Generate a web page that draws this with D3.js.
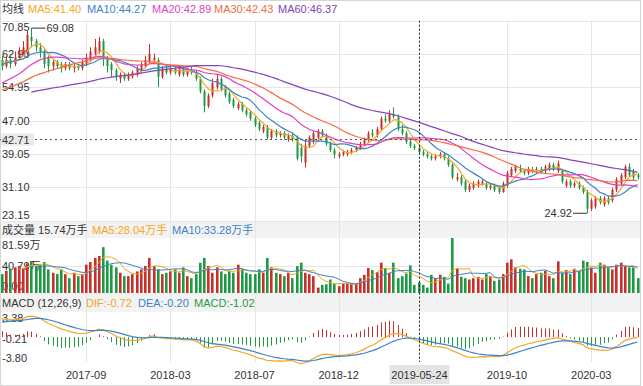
<!DOCTYPE html>
<html>
<head>
<meta charset="utf-8">
<script src="https://cdn.jsdelivr.net/npm/d3@7"></script>
<style>
body { margin: 0; background: #fff; }
svg { display: block; font-family: Arial, "Liberation Sans", "Noto Sans CJK SC", sans-serif; }
</style>
</head>
<body>
<div id="chart"></div>
<script>
var width = 643;
var height = 386;

// weekly candles, oldest first (price in yuan, volume in 万手)
var openP = [61.5,60.0,61.5,60.5,62.0,63.0,63.0,67.0,66.0,64.5, 63.5,62.0,60.0,61.0,60.5,59.5,60.5,59.5,60.0,59.5,
	60.5,61.5,63.0,63.5,66.0,62.0,60.5,59.0,57.0,58.0, 57.0,57.5,58.0,59.0,60.0,61.0,61.5,61.5,57.5,59.5,
	58.5,59.5,58.0,59.5,58.0,59.0,58.5,57.0,54.0,50.5, 53.0,55.0,57.0,55.0,53.5,52.0,50.0,51.0,49.5,49.0,
	47.5,46.5,44.5,45.5,43.0,44.5,43.5,44.0,42.5,43.5, 43.0,40.5,37.0,41.0,42.0,43.0,44.5,43.5,41.5,40.0,
	38.5,39.0,39.0,39.5,40.0,40.5,41.5,42.5,44.0,43.5, 45.0,47.5,47.0,48.5,48.0,45.0,44.0,42.0,41.0,40.5,
	39.5,39.0,38.5,38.0,38.5,39.0,38.0,36.5,33.0,33.5, 32.5,30.5,31.0,31.5,32.0,32.0,31.0,31.5,31.0,30.0,
	31.5,34.0,35.0,35.5,35.0,34.5,35.5,35.0,35.5,35.0, 35.5,36.5,35.0,35.0,31.5,32.5,31.5,32.0,31.0,30.0,
	26.0,26.5,28.5,27.0,28.5,28.0,30.5,32.0,33.5,36.0, 35.0,34.0];
var highP = [62.5,62.5,63.0,63.5,64.5,66.0,68.6,69.08,66.5,65.5, 64.0,62.5,61.5,61.5,61.0,61.0,61.0,60.5,60.5,61.5,
	63.0,64.5,66.5,67.0,66.5,62.5,61.0,59.5,58.5,58.5, 58.5,59.0,60.0,61.0,62.5,65.3,63.0,62.0,60.0,60.5,
	60.0,60.0,60.0,60.0,59.5,60.0,59.0,57.5,54.5,53.5, 57.0,58.0,57.5,55.5,54.0,52.5,51.5,51.5,50.0,49.5,
	48.0,47.0,46.0,46.0,45.0,45.0,44.5,44.5,44.0,44.0, 43.5,41.5,42.5,43.5,44.5,45.0,45.0,44.0,42.0,40.5,
	39.5,40.0,40.0,40.5,41.0,42.0,43.0,44.5,45.0,45.5, 48.0,48.5,49.5,50.2,48.5,46.0,44.5,42.5,41.5,41.0,
	40.0,39.5,39.0,39.0,39.5,39.5,38.5,37.0,34.5,34.0, 33.0,32.0,32.5,33.0,33.0,32.5,32.0,32.0,31.5,32.5,
	35.0,36.0,36.5,36.5,35.5,36.0,36.0,36.0,36.0,36.5, 37.0,37.0,37.5,35.5,33.0,33.0,32.5,32.5,31.5,30.5,
	28.5,29.0,29.0,29.0,29.0,31.0,33.5,34.5,36.5,36.8, 35.5,34.5];
var lowP = [59.0,59.5,59.5,60.0,61.5,62.5,62.5,64.5,63.5,62.0, 59.5,58.5,59.0,59.5,58.5,59.0,59.0,58.5,59.0,59.0,
	60.0,61.0,62.5,63.0,60.0,58.5,57.5,56.5,56.0,56.5, 56.5,57.0,57.5,58.5,59.5,60.5,60.5,55.0,57.0,58.0,
	58.0,58.0,57.5,57.5,57.5,58.0,56.5,53.5,49.0,50.0, 52.5,54.5,54.0,52.5,51.0,50.0,49.5,49.0,48.0,47.0,
	45.5,44.5,44.0,42.5,42.5,43.0,43.0,42.5,42.0,42.0, 37.5,37.0,35.8,40.5,41.5,42.5,43.0,41.0,39.5,38.0,
	38.0,38.5,38.5,39.0,39.5,40.0,41.0,42.0,43.0,43.0, 44.5,46.5,46.5,47.5,44.5,43.5,41.5,40.5,40.0,39.0,
	38.5,38.0,37.5,37.5,38.0,37.5,36.0,33.0,32.5,31.5, 30.0,30.0,30.5,31.0,31.5,30.5,30.5,30.0,29.5,29.8,
	31.0,33.5,34.5,34.5,34.0,34.0,34.5,34.5,34.5,34.5, 35.0,35.0,34.5,32.0,31.0,31.0,31.0,30.5,29.5,24.92,
	25.5,26.0,27.0,26.5,27.0,27.5,30.0,31.5,33.0,33.5, 32.8,33.0];
var closeP = [60.0,61.5,60.5,62.0,63.5,64.5,67.5,66.0,64.5,63.5, 60.5,60.0,61.0,60.0,59.5,60.5,59.5,60.0,59.5,61.0,
	62.0,63.5,64.5,66.0,62.0,60.0,59.0,57.5,58.0,57.0, 58.0,58.5,59.5,60.5,61.5,63.0,62.0,57.5,59.5,58.5,
	59.5,58.5,59.5,58.0,59.0,58.5,57.0,54.0,50.5,53.0, 56.0,57.0,54.5,53.0,51.5,50.5,51.0,49.5,48.5,47.5,
	46.0,45.0,45.5,43.0,44.5,43.5,44.0,43.0,43.5,42.5, 38.0,38.5,41.0,43.0,44.0,44.5,43.5,41.5,40.0,39.0,
	39.0,39.5,39.5,40.0,40.5,41.5,42.5,44.0,43.5,45.0, 47.5,47.0,48.5,48.0,45.0,44.0,42.0,41.0,40.5,39.5,
	39.0,38.5,38.0,38.5,39.0,38.0,36.5,33.5,33.5,32.0, 30.5,31.5,32.0,32.5,32.5,31.0,31.5,30.5,30.0,32.0,
	34.5,35.5,36.0,35.0,34.5,35.5,35.0,35.5,35.0,36.0, 36.5,35.5,36.8,32.5,32.5,31.5,32.0,31.0,30.0,26.0,
	28.0,28.5,27.5,28.5,27.5,30.5,33.0,34.0,36.0,34.0, 33.5,33.5];
var volume = [28,33,36,38,40,36,44,46,40,42, 46,35,30,28,35,28,22,30,25,28,
	42,46,52,55,68,48,42,38,30,25, 25,28,32,35,40,52,40,35,28,30,
	32,35,30,38,25,22,28,45,52,40, 30,38,32,28,33,30,42,36,30,28,
	28,35,30,52,38,30,28,25,30,22, 40,45,30,28,25,8,12,13,20,14,
	10,14,14,14,14,22,27,37,34,31, 45,37,30,45,22,25,29,41,12,15.74,
	12,8,27,22,27,24,14,81.59,36,24, 22,20,22,24,20,28,25,18,20,28,
	45,50,38,36,35,25,22,28,30,33, 25,22,47,30,34,28,36,33,48,46,
	38,30,45,42,38,35,42,45,40,38, 38,22];
// closes of the weeks before the window; they only feed the MA and MACD lines
var warmClose = [52,51,50,49,50,51,50,49,48,49,50,51,52,51,50,49,50,51,50,49,50,51,52,
	51,50,50,51,52,51,50,51,52,52, 50,51,52,51,50,51,52,53,53,54,
	56,58,60,61,62.5, 61,60.5,62,61.5];

var tickIndex = [20, 40, 60, 80, 120, 140];
var tickLabel = ["2017-09", "2018-03", "2018-07", "2018-12", "2019-10", "2020-03"];
var priceTicks = [70.85, 62.90, 54.95, 47.00, 39.05, 31.10, 23.15];
var volTicks = [81.59, 40.79, 0];
var macdTicks = [3.38, -0.21, -3.80];

var cursorIndex = 99;
var cursorDate = "2019-05-24";
var cursorPrice = 42.71;
var maNames = ["MA5", "MA10", "MA20", "MA30", "MA60"];
var maDays = [5, 10, 20, 30, 60];
var maLegend = ["41.40", "44.27", "42.89", "42.43", "46.37"];
var volLegend = ["15.74", "28.04", "33.28"];
var macdLegend = ["-0.72", "-0.20", "-1.02"];

var RED = "#c9302c", GREEN = "#1e9a45";
var maColor = ["#f5a623", "#3b83c8", "#e03fc6", "#f36b45", "#8442b8"];

var svg = d3.select("#chart").append("svg")
	.attr("width", width)
	.attr("height", height);

var n = closeP.length;
var x = d3.scaleLinear().domain([0, n - 1]).range([2, 637.5]);
var y = d3.scaleLinear().domain([23.15, 70.85]).range([220.7, 20.7]);
var yVol = d3.scaleLinear().domain([0, 81.59]).range([293, 238]);
var yMacd = d3.scaleLinear().domain([-3.80, 3.38]).range([362, 315]);

// bands and frame
svg.append("rect").attr("x", 0.5).attr("y", 0.5).attr("width", 640).attr("height", 385)
	.attr("fill", "#fff").attr("stroke", "#d6d6d6");
svg.append("rect").attr("x", 1).attr("y", 221).attr("width", 639).attr("height", 17).attr("fill", "#f3f3f3");
svg.append("rect").attr("x", 1).attr("y", 293).attr("width", 639).attr("height", 19).attr("fill", "#f3f3f3");

// grid
var grid = svg.append("g").attr("stroke", "#e6e6e6").attr("stroke-width", 1);
grid.selectAll(".v").data(tickIndex).enter().append("line")
	.attr("x1", d => Math.round(x(d)) + 0.5).attr("x2", d => Math.round(x(d)) + 0.5)
	.attr("y1", 20.7).attr("y2", 362);
grid.selectAll(".h").data(priceTicks).enter().append("line")
	.attr("x1", 0).attr("x2", 640)
	.attr("y1", d => Math.round(y(d)) + 0.5).attr("y2", d => Math.round(y(d)) + 0.5);
grid.append("line").attr("x1", 0).attr("x2", 640)
	.attr("y1", Math.round(yVol(40.79)) + 0.5).attr("y2", Math.round(yVol(40.79)) + 0.5);

// axis labels (drawn under the marks, as in the original)
var lab = svg.append("g").attr("font-size", 11).attr("fill", "#333");
lab.selectAll(".p").data(priceTicks).enter().append("text")
	.attr("x", 2)
	.attr("y", (d, i) => i == 0 ? y(d) + 10 : (i == priceTicks.length - 1 ? y(d) - 2 : y(d) + 4))
	.text(d => d.toFixed(2));
lab.selectAll(".v").data(volTicks).enter().append("text")
	.attr("x", 2)
	.attr("y", (d, i) => i == 0 ? yVol(d) + 11 : (i == 2 ? yVol(d) - 3 : yVol(d) + 4))
	.text(d => d == 0 ? "0.00" : d.toFixed(2) + "万");
lab.selectAll(".m").data(macdTicks).enter().append("text")
	.attr("x", 2)
	.attr("y", (d, i) => i == 0 ? yMacd(d) + 7 : (i == 2 ? yMacd(d) : yMacd(d) + 4))
	.text(d => d.toFixed(2));
lab.selectAll(".t").data(tickIndex).enter().append("text")
	.attr("x", d => x(d)).attr("y", 379).attr("text-anchor", "middle")
	.text((d, i) => tickLabel[i]);

// moving averages over warm-up + visible closes
var allClose = warmClose.concat(closeP);
var off = warmClose.length;
function movingAvg(vals, days, start) {
	var out = [];
	for (var i = start; i < vals.length; i++) {
		if (i - days + 1 < 0) { out.push(null); continue; }
		out.push(d3.mean(vals.slice(i - days + 1, i + 1)));
	}
	return out;
}
function ema(vals, days) {
	var k = 2 / (days + 1), out = [vals[0]];
	for (var i = 1; i < vals.length; i++) out.push(out[i - 1] + k * (vals[i] - out[i - 1]));
	return out;
}

var line = d3.line()
	.defined(d => d[1] != null)
	.x(d => x(d[0]))
	.y(d => d[1]);

// candles
var candles = svg.append("g");
var idx = d3.range(n);
candles.selectAll("line").data(idx).enter().append("line")
	.attr("x1", i => Math.round(x(i)) + 0.5).attr("x2", i => Math.round(x(i)) + 0.5)
	.attr("y1", i => y(highP[i])).attr("y2", i => y(lowP[i]))
	.attr("stroke", i => closeP[i] >= openP[i] ? RED : GREEN);
candles.selectAll("rect").data(idx).enter().append("rect")
	.attr("x", i => Math.round(x(i)) - 0.5).attr("width", 2)
	.attr("y", i => y(Math.max(openP[i], closeP[i])))
	.attr("height", i => Math.max(1, Math.abs(y(openP[i]) - y(closeP[i]))))
	.attr("fill", i => closeP[i] >= openP[i] ? RED : GREEN);

maDays.forEach(function (days, k) {
	var vals = movingAvg(allClose, days, off);
	svg.append("path")
		.datum(vals.map((v, i) => [i, v == null ? null : y(v)]))
		.attr("fill", "none").attr("stroke", maColor[k]).attr("stroke-width", 1.2)
		.attr("d", line);
});

// high / low markers
var hiIdx = d3.maxIndex(highP), loIdx = d3.minIndex(lowP);
svg.append("path").attr("fill", "none").attr("stroke", "#333")
	.attr("d", "M" + x(hiIdx) + "," + y(highP[hiIdx]) + "H" + (x(hiIdx) + 14));
svg.append("text").attr("x", x(hiIdx) + 15).attr("y", y(highP[hiIdx]) + 4)
	.attr("font-size", 11).attr("fill", "#333").text(highP[hiIdx].toFixed(2));
svg.append("path").attr("fill", "none").attr("stroke", "#333")
	.attr("d", "M" + x(loIdx) + "," + y(lowP[loIdx]) + "H" + (x(loIdx) - 14));
svg.append("text").attr("x", x(loIdx) - 15).attr("y", y(lowP[loIdx]) + 4)
	.attr("text-anchor", "end").attr("font-size", 11).attr("fill", "#333").text(lowP[loIdx].toFixed(2));

// volume
svg.append("g").selectAll("rect").data(idx).enter().append("rect")
	.attr("x", i => Math.round(x(i)) - 1).attr("width", 2.6)
	.attr("y", i => yVol(volume[i]))
	.attr("height", i => yVol(0) - yVol(volume[i]))
	.attr("fill", i => closeP[i] >= openP[i] ? RED : GREEN);
[5, 10].forEach(function (days, k) {
	var vals = movingAvg(volume, days, 0);
	svg.append("path")
		.datum(vals.map((v, i) => [i, v == null ? null : yVol(v)]))
		.attr("fill", "none").attr("stroke", maColor[k]).attr("stroke-width", 1)
		.attr("d", line);
});

// MACD (12,26,9)
var e12 = ema(allClose, 12), e26 = ema(allClose, 26);
var dif = e12.map((v, i) => v - e26[i]);
var dea = ema(dif, 9);
var hist = dif.map((v, i) => 2 * (v - dea[i]));
svg.append("g").selectAll("line").data(idx).enter().append("line")
	.attr("x1", i => Math.round(x(i)) + 0.5).attr("x2", i => Math.round(x(i)) + 0.5)
	.attr("y1", yMacd(0)).attr("y2", i => yMacd(hist[i + off]))
	.attr("stroke", i => hist[i + off] >= 0 ? RED : GREEN);
svg.append("path").datum(idx.map(i => [i, yMacd(dif[i + off])]))
	.attr("fill", "none").attr("stroke", maColor[0]).attr("stroke-width", 1.2).attr("d", line);
svg.append("path").datum(idx.map(i => [i, yMacd(dea[i + off])]))
	.attr("fill", "none").attr("stroke", maColor[1]).attr("stroke-width", 1.2).attr("d", line);

// cursor
var cx = Math.round(x(cursorIndex)) + 0.5;
svg.append("line").attr("x1", cx).attr("x2", cx).attr("y1", 20.7).attr("y2", 362)
	.attr("stroke", "#222").attr("stroke-dasharray", "2,2");
var cy = Math.round(y(cursorPrice)) + 0.5;
svg.append("line").attr("x1", 0).attr("x2", 640).attr("y1", cy).attr("y2", cy)
	.attr("stroke", "#555").attr("stroke-dasharray", "2,3");
svg.append("rect").attr("x", 1).attr("y", cy - 6).attr("width", 33).attr("height", 12).attr("fill", "#e9e9e9");
svg.append("text").attr("x", 2).attr("y", cy + 4).attr("font-size", 11).attr("fill", "#333").text(cursorPrice.toFixed(2));
svg.append("rect").attr("x", cx - 30).attr("y", 365).attr("width", 60).attr("height", 19).attr("fill", "#e4e4e4");
svg.append("text").attr("x", cx).attr("y", 379).attr("text-anchor", "middle")
	.attr("font-size", 11).attr("fill", "#333").text(cursorDate);

// legends
var leg = svg.append("g").attr("font-size", 11);
leg.append("text").attr("x", 2).attr("y", 13).attr("fill", "#333").text("均线");
var maX = [28, 87, 152, 214, 278];
maNames.forEach(function (name, k) {
	leg.append("text").attr("x", maX[k]).attr("y", 13).attr("fill", maColor[k])
		.text(name + ":" + maLegend[k]);
});
leg.append("text").attr("x", 2).attr("y", 234).attr("fill", "#333").text("成交量 " + volLegend[0] + "万手");
leg.append("text").attr("x", 92).attr("y", 234).attr("fill", maColor[0]).text("MA5:" + volLegend[1] + "万手");
leg.append("text").attr("x", 172).attr("y", 234).attr("fill", maColor[1]).text("MA10:" + volLegend[2] + "万手");
leg.append("text").attr("x", 2).attr("y", 307).attr("fill", "#333").text("MACD (12,26,9)");
leg.append("text").attr("x", 86).attr("y", 307).attr("fill", maColor[0]).text("DIF:" + macdLegend[0]);
leg.append("text").attr("x", 138).attr("y", 307).attr("fill", maColor[1]).text("DEA:" + macdLegend[1]);
leg.append("text").attr("x", 194).attr("y", 307).attr("fill", GREEN).text("MACD:" + macdLegend[2]);
</script>
</body>
</html>
